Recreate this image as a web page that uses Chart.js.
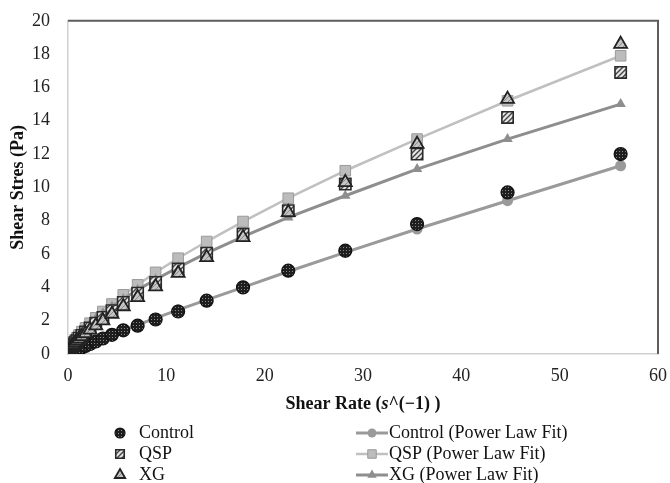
<!DOCTYPE html>
<html>
<head>
<meta charset="utf-8">
<script src="https://cdn.jsdelivr.net/npm/chart.js@4.4.0/dist/chart.umd.min.js"></script>
<style>
  html, body { margin: 0; padding: 0; background: #fff; }
  #wrap { width: 670px; height: 483px; position: relative; }
</style>
</head>
<body>
<div id="wrap"><canvas id="c" width="670" height="483"></canvas></div>
<script>
// ---- Data ----
const shearRate = [0.0112, 0.0141, 0.0178, 0.0224, 0.0282, 0.0355, 0.0447, 0.0562, 0.0708, 0.0891,
  0.112, 0.141, 0.178, 0.224, 0.282, 0.355, 0.447, 0.562, 0.708, 0.891,
  1.12, 1.41, 1.78, 2.24, 2.82, 3.55, 4.47, 5.62, 7.08, 8.91,
  11.2, 14.1, 17.8, 22.4, 28.2, 35.5, 44.7, 56.2];

const controlData = [0.004, 0.005, 0.006, 0.008, 0.010, 0.012, 0.015, 0.018, 0.022, 0.027,
  0.033, 0.042, 0.052, 0.065, 0.081, 0.10, 0.13, 0.16, 0.20, 0.25,
  0.31, 0.39, 0.48, 0.60, 0.75, 0.93, 1.15, 1.42, 1.70, 2.07,
  2.55, 3.2, 4.0, 5.0, 6.2, 7.8, 9.7, 12.0];

const controlFit = [0.006, 0.0075, 0.009, 0.011, 0.014, 0.017, 0.020, 0.025, 0.030, 0.037,
  0.045, 0.055, 0.068, 0.083, 0.10, 0.125, 0.15, 0.185, 0.23, 0.28,
  0.34, 0.42, 0.51, 0.63, 0.77, 0.95, 1.16, 1.42, 1.75, 2.15,
  2.65, 3.25, 4.0, 4.95, 6.1, 7.5, 9.2, 11.3];

const qspData = [0.032, 0.038, 0.045, 0.054, 0.064, 0.075, 0.09, 0.105, 0.125, 0.15,
  0.175, 0.21, 0.245, 0.29, 0.345, 0.41, 0.48, 0.57, 0.68, 0.80,
  0.95, 1.12, 1.33, 1.57, 1.85, 2.2, 2.6, 3.1, 3.65, 4.3,
  5.1, 6.05, 7.2, 8.6, 10.2, 12.0, 14.2, 16.9];

const qspFit = [0.045, 0.053, 0.062, 0.073, 0.085, 0.10, 0.118, 0.139, 0.163, 0.19,
  0.225, 0.265, 0.31, 0.37, 0.43, 0.51, 0.60, 0.70, 0.82, 0.97,
  1.14, 1.34, 1.57, 1.85, 2.17, 2.55, 3.0, 3.55, 4.15, 4.9,
  5.75, 6.75, 7.95, 9.35, 11.0, 12.9, 15.2, 17.9];

const xgData = [0.04, 0.047, 0.055, 0.064, 0.075, 0.087, 0.10, 0.12, 0.14, 0.16,
  0.19, 0.22, 0.26, 0.30, 0.35, 0.41, 0.48, 0.56, 0.66, 0.77,
  0.90, 1.05, 1.23, 1.45, 1.70, 2.0, 2.4, 2.85, 3.4, 4.05,
  4.85, 5.8, 7.0, 8.5, 10.3, 12.6, 15.3, 18.6];

const xgFit = [0.057, 0.066, 0.077, 0.089, 0.104, 0.12, 0.14, 0.163, 0.19, 0.22,
  0.255, 0.296, 0.345, 0.40, 0.465, 0.54, 0.63, 0.73, 0.85, 0.99,
  1.15, 1.33, 1.55, 1.8, 2.1, 2.44, 2.84, 3.3, 3.85, 4.47,
  5.2, 6.05, 7.05, 8.2, 9.5, 11.1, 12.9, 15.0];

const xTicks = [0, 10, 20, 30, 40, 50, 60];
const yTicks = [0, 2, 4, 6, 8, 10, 12, 14, 16, 18, 20];
const seriesLabels = ['Control', 'QSP', 'XG', 'Control (Power Law Fit)', 'QSP (Power Law Fit)', 'XG (Power Law Fit)'];
const xTitleParts = ['Shear Rate (', 's', '^(\u22121) )'];
const yTitle = 'Shear Stres (Pa)';

// ---- Styling helpers ----
const SERIF = '"Liberation Serif", "Times New Roman", serif';
const ctx0 = document.getElementById('c').getContext('2d');

function makePattern(w, h, draw) {
  const c = document.createElement('canvas');
  c.width = w; c.height = h;
  const g = c.getContext('2d');
  draw(g, w, h);
  return ctx0.createPattern(c, 'repeat');
}
const dotPattern = makePattern(3, 3, (g) => {
  g.fillStyle = '#1e1e1e'; g.fillRect(0, 0, 3, 3);
  g.fillStyle = '#8a8a8a'; g.fillRect(1, 1, 1, 1);
});
const hatchPattern = makePattern(5, 5, (g) => {
  g.fillStyle = '#e6e6e6'; g.fillRect(0, 0, 5, 5);
  g.strokeStyle = '#444'; g.lineWidth = 1.4;
  g.beginPath();
  g.moveTo(0, 5); g.lineTo(5, 0);
  g.moveTo(-1, 1); g.lineTo(1, -1);
  g.moveTo(4, 6); g.lineTo(6, 4);
  g.stroke();
});
const triPattern = makePattern(5, 5, (g) => {
  g.fillStyle = '#c4c4c4'; g.fillRect(0, 0, 5, 5);
  g.strokeStyle = '#8a8a8a'; g.lineWidth = 1;
  g.beginPath();
  g.moveTo(0, 5); g.lineTo(5, 0);
  g.stroke();
});

function pts(ys) { return shearRate.map((x, i) => ({ x: x, y: ys[i] })); }

const datasets = [
  { label: seriesLabels[2], data: pts(xgData), showLine: false, pointStyle: 'triangle', pointRadius: 7.5,
    backgroundColor: triPattern, borderColor: '#222', pointBorderWidth: 1.8, order: 1 },
  { label: seriesLabels[1], data: pts(qspData), showLine: false, pointStyle: 'rect', pointRadius: 8,
    backgroundColor: hatchPattern, borderColor: '#2a2a2a', pointBorderWidth: 1.6, order: 2 },
  { label: seriesLabels[0], data: pts(controlData), showLine: false, pointStyle: 'circle', pointRadius: 6.5,
    backgroundColor: dotPattern, borderColor: '#111', pointBorderWidth: 1.2, order: 3 },
  { label: seriesLabels[5], data: pts(xgFit), showLine: true, pointStyle: 'triangle', pointRadius: 6,
    backgroundColor: '#8e8e8e', borderColor: '#8e8e8e', borderWidth: 3, pointBorderWidth: 0, order: 4 },
  { label: seriesLabels[4], data: pts(qspFit), showLine: true, pointStyle: 'rect', pointRadius: 7.5,
    backgroundColor: '#bcbcbc', borderColor: '#c0c0c0', borderWidth: 2.5, pointBorderColor: '#9a9a9a', pointBorderWidth: 1, order: 5 },
  { label: seriesLabels[3], data: pts(controlFit), showLine: true, pointStyle: 'circle', pointRadius: 5.5,
    backgroundColor: '#9a9a9a', borderColor: '#9a9a9a', borderWidth: 3, pointBorderWidth: 0, order: 6 }
];

// ---- Plugins: frame, x title, legend ----
const framePlugin = {
  id: 'frame',
  afterDatasetsDraw(chart) {
    const { ctx, chartArea: a } = chart;
    ctx.save();
    ctx.strokeStyle = '#5e5e5e';
    ctx.lineWidth = 2;
    ctx.beginPath();
    ctx.moveTo(a.left, a.top); ctx.lineTo(a.right, a.top); ctx.lineTo(a.right, a.bottom);
    ctx.stroke();
    ctx.restore();
  }
};

const xTitlePlugin = {
  id: 'xTitle',
  afterDraw(chart) {
    const { ctx, chartArea: a } = chart;
    const fonts = ['bold 18px ' + SERIF, 'italic bold 18px ' + SERIF, 'bold 18px ' + SERIF];
    ctx.save();
    ctx.fillStyle = '#111';
    ctx.textBaseline = 'middle';
    let total = 0;
    const widths = xTitleParts.map((t, i) => { ctx.font = fonts[i]; const w = ctx.measureText(t).width; total += w; return w; });
    let x = (a.left + a.right) / 2 - total / 2;
    const y = 404;
    xTitleParts.forEach((t, i) => { ctx.font = fonts[i]; ctx.textAlign = 'left'; ctx.fillText(t, x, y); x += widths[i]; });
    ctx.restore();
  }
};

const legendPlugin = {
  id: 'customLegend',
  afterDraw(chart) {
    const { ctx } = chart;
    const rows = [433, 454, 475];
    const leftIdx = [2, 1, 0];   // Control, QSP, XG
    const rightIdx = [5, 4, 3];
    ctx.save();
    ctx.font = '18px ' + SERIF;
    ctx.textBaseline = 'middle';
    ctx.textAlign = 'left';
    rows.forEach((y, r) => {
      const d = chart.data.datasets[leftIdx[r]];
      ctx.fillStyle = d.backgroundColor;
      ctx.strokeStyle = d.borderColor;
      ctx.lineWidth = d.pointBorderWidth;
      const rad = d.pointStyle === 'circle' ? 5 : 6;
      Chart.helpers.drawPoint(ctx, { pointStyle: d.pointStyle, radius: rad, rotation: 0, borderWidth: d.pointBorderWidth }, 120, y);
      ctx.fillStyle = '#111';
      ctx.fillText(d.label, 139, y);

      const f = chart.data.datasets[rightIdx[r]];
      ctx.strokeStyle = f.borderColor;
      ctx.lineWidth = f.borderWidth;
      ctx.beginPath(); ctx.moveTo(356, y); ctx.lineTo(388, y); ctx.stroke();
      ctx.fillStyle = f.backgroundColor;
      ctx.strokeStyle = f.pointBorderColor || f.borderColor;
      ctx.lineWidth = f.pointBorderWidth || 0;
      const fr = f.pointStyle === 'circle' ? 4.5 : (f.pointStyle === 'rect' ? 6 : 5.5);
      Chart.helpers.drawPoint(ctx, { pointStyle: f.pointStyle, radius: fr, rotation: 0, borderWidth: f.pointBorderWidth || 0 }, 372, y);
      ctx.fillStyle = '#111';
      ctx.fillText(f.label, 389, y);
    });
    ctx.restore();
  }
};

new Chart(ctx0, {
  type: 'scatter',
  data: { datasets: datasets },
  options: {
    responsive: false,
    animation: false,
    devicePixelRatio: 1,
    layout: { padding: { left: 0, right: 12, top: 19, bottom: 69 } },
    plugins: { legend: { display: false }, tooltip: { enabled: false } },
    elements: { line: { tension: 0 } },
    scales: {
      x: {
        type: 'linear', min: 0, max: 60,
        afterBuildTicks: (s) => { s.ticks = xTicks.map(v => ({ value: v })); },
        afterFit: (s) => { s.height = 60; },
        grid: { display: false },
        border: { display: true, color: '#d0d0d0', width: 1.5 },
        ticks: { color: '#222', font: { family: SERIF, size: 18 }, padding: 3, maxRotation: 0 },
        title: { display: false }
      },
      y: {
        type: 'linear', min: 0, max: 20,
        afterBuildTicks: (s) => { s.ticks = yTicks.map(v => ({ value: v })); },
        afterFit: (s) => { s.width = 68; },
        grid: { display: false },
        border: { display: true, color: '#d0d0d0', width: 1.5 },
        ticks: { color: '#222', font: { family: SERIF, size: 18 }, padding: 10 },
        title: { display: true, text: yTitle, color: '#111', font: { family: SERIF, size: 18, weight: 'bold' }, padding: { top: 8, bottom: 0 } }
      }
    }
  },
  plugins: [framePlugin, xTitlePlugin, legendPlugin]
});
</script>
</body>
</html>
